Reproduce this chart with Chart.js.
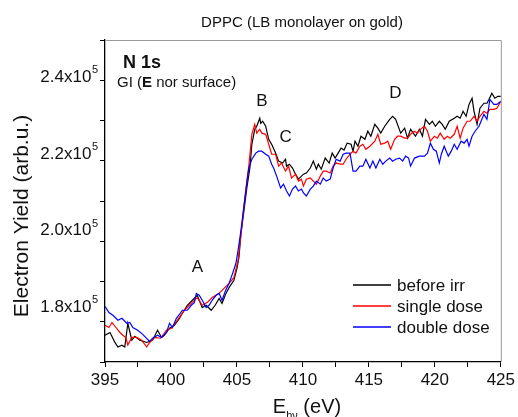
<!DOCTYPE html>
<html>
<head>
<meta charset="utf-8">
<script src="https://cdn.jsdelivr.net/npm/chart.js@4.4.1/dist/chart.umd.min.js"></script>
<style>
  html, body { margin: 0; padding: 0; background: #fff; }
  #wrap { width: 518px; height: 417px; position: relative; }
</style>
</head>
<body>
<div id="wrap"><canvas id="c" width="518" height="417"></canvas></div>
<script>
// ---- Data (yield in units of 10^5, energy in eV) ----
const yieldUnit = 1e5;

const energyBlack = [395.00,395.38,395.75,395.98,396.28,396.50,396.73,397.03,397.26,397.63,398.16,398.61,398.98,399.29,399.51,399.89,400.26,400.64,400.86,401.24,401.62,401.99,402.37,402.67,403.05,403.35,403.65,403.87,404.17,404.40,404.77,405.00,405.15,405.30,405.53,405.75,405.98,406.13,406.35,406.50,406.73,406.80,406.95,407.18,407.26,407.41,407.63,407.93,408.16,408.46,408.68,408.76,408.98,409.21,409.44,409.66,410.04,410.26,410.56,410.79,411.02,411.17,411.39,411.69,411.99,412.22,412.44,412.67,412.89,413.12,413.35,413.65,413.80,413.95,414.17,414.40,414.70,414.92,415.15,415.45,415.68,415.90,416.20,416.58,416.80,417.03,417.41,417.71,417.93,418.16,418.53,418.83,419.06,419.29,419.59,419.81,420.04,420.34,420.56,420.79,421.09,421.47,421.69,421.92,422.14,422.37,422.59,422.82,422.97,423.20,423.42,423.72,423.95,424.10,424.32,424.55,424.77,425.00];
const yieldBlack = [1.725,1.732,1.706,1.694,1.699,1.694,1.756,1.712,1.722,1.712,1.706,1.712,1.738,1.719,1.725,1.743,1.751,1.769,1.782,1.803,1.816,1.829,1.797,1.803,1.790,1.803,1.821,1.808,1.834,1.849,1.868,1.899,1.927,1.990,2.049,2.109,2.161,2.223,2.262,2.270,2.291,2.278,2.283,2.270,2.257,2.236,2.223,2.200,2.179,2.174,2.184,2.166,2.171,2.161,2.145,2.132,2.145,2.148,2.161,2.179,2.158,2.171,2.158,2.187,2.174,2.200,2.187,2.200,2.213,2.208,2.226,2.223,2.205,2.231,2.218,2.244,2.236,2.257,2.244,2.275,2.265,2.252,2.270,2.288,2.296,2.288,2.252,2.265,2.239,2.262,2.244,2.262,2.244,2.288,2.275,2.283,2.270,2.283,2.275,2.262,2.283,2.291,2.296,2.291,2.309,2.296,2.327,2.343,2.309,2.275,2.317,2.330,2.330,2.340,2.356,2.343,2.348,2.348];

const energyRed = [395.00,395.30,395.53,395.83,396.13,396.35,396.58,396.73,397.03,397.41,397.78,398.16,398.38,398.76,399.21,399.66,400.04,400.49,401.02,401.54,401.99,402.37,402.74,403.12,403.65,404.02,404.40,404.77,405.08,405.30,405.53,405.75,405.90,406.13,406.35,406.50,406.73,406.88,407.18,407.41,407.63,407.93,408.16,408.38,408.68,408.91,409.14,409.44,409.66,409.89,410.04,410.26,410.56,410.79,411.02,411.32,411.54,411.77,412.07,412.29,412.52,412.82,413.05,413.27,413.57,413.80,414.02,414.32,414.55,414.77,415.08,415.45,415.68,415.90,416.20,416.43,416.65,416.95,417.18,417.41,417.71,417.93,418.16,418.46,418.68,418.91,419.21,419.44,419.66,419.96,420.19,420.41,420.71,420.94,421.17,421.47,421.69,421.92,422.14,422.44,422.67,422.97,423.20,423.42,423.72,423.95,424.17,424.47,424.70,425.00];
const yieldRed = [1.751,1.745,1.758,1.745,1.732,1.725,1.719,1.699,1.719,1.719,1.712,1.694,1.706,1.719,1.717,1.738,1.743,1.764,1.790,1.808,1.823,1.803,1.810,1.823,1.834,1.847,1.860,1.875,1.919,1.984,2.062,2.127,2.166,2.249,2.275,2.252,2.262,2.252,2.249,2.223,2.197,2.197,2.166,2.174,2.153,2.166,2.135,2.145,2.127,2.132,2.114,2.132,2.135,2.127,2.119,2.140,2.153,2.153,2.148,2.166,2.174,2.171,2.171,2.184,2.197,2.205,2.200,2.218,2.223,2.210,2.218,2.231,2.249,2.223,2.226,2.231,2.210,2.236,2.244,2.244,2.239,2.239,2.249,2.257,2.252,2.262,2.270,2.257,2.231,2.244,2.239,2.252,2.236,2.244,2.239,2.249,2.270,2.239,2.265,2.283,2.283,2.296,2.283,2.296,2.309,2.304,2.314,2.314,2.317,2.335];

const energyBlue = [395.00,395.30,395.60,395.98,396.28,396.65,396.88,397.11,397.48,397.86,398.38,398.61,398.98,399.29,399.66,399.89,400.11,400.41,400.64,400.86,401.24,401.54,401.77,401.92,402.14,402.37,402.67,402.89,403.12,403.42,403.65,403.87,404.17,404.40,404.62,404.92,405.08,405.30,405.53,405.75,405.90,406.13,406.43,406.65,406.88,407.18,407.41,407.63,407.78,408.01,408.31,408.53,408.76,408.98,409.21,409.44,409.66,409.89,410.04,410.26,410.56,410.79,411.02,411.32,411.54,411.77,412.07,412.29,412.52,412.82,413.05,413.27,413.57,413.80,414.02,414.32,414.55,414.77,415.08,415.30,415.53,415.83,416.05,416.28,416.58,416.80,417.03,417.33,417.56,417.78,418.01,418.16,418.46,418.83,419.21,419.44,419.66,419.89,420.11,420.34,420.49,420.71,421.02,421.24,421.47,421.69,421.99,422.22,422.44,422.59,422.82,423.05,423.35,423.50,423.72,423.95,424.17,424.47,424.70,425.00];
const yieldBlue = [1.800,1.784,1.777,1.764,1.769,1.756,1.758,1.745,1.738,1.727,1.709,1.717,1.725,1.719,1.732,1.756,1.745,1.769,1.779,1.790,1.790,1.803,1.810,1.834,1.829,1.816,1.797,1.803,1.816,1.829,1.834,1.816,1.844,1.860,1.881,1.912,1.945,1.997,2.062,2.122,2.161,2.184,2.200,2.205,2.205,2.197,2.192,2.171,2.161,2.140,2.109,2.119,2.101,2.088,2.106,2.114,2.101,2.106,2.096,2.088,2.106,2.114,2.127,2.119,2.135,2.127,2.132,2.161,2.184,2.179,2.197,2.200,2.200,2.153,2.153,2.166,2.166,2.184,2.161,2.179,2.161,2.184,2.171,2.179,2.187,2.179,2.184,2.187,2.179,2.192,2.187,2.166,2.187,2.192,2.192,2.200,2.226,2.210,2.205,2.174,2.197,2.218,2.192,2.205,2.223,2.210,2.231,2.226,2.236,2.218,2.244,2.257,2.270,2.283,2.301,2.288,2.340,2.327,2.327,2.335];

const seriesNames = ['before irr', 'single dose', 'double dose'];
const seriesColors = ['#000000', '#ff0000', '#0000ff'];
const xTickValues = [395, 400, 405, 410, 415, 420, 425];
const yTickValues = [1.8, 2.0, 2.2, 2.4];
const peakLabels = ['A', 'B', 'C', 'D'];
const peakEnergies = [402.0, 406.9, 408.7, 417.0];
const peakYields = [1.903, 2.336, 2.240, 2.355];

function pairs(ex, ey) {
  const n = Math.min(ex.length, ey.length);
  const out = [];
  for (let i = 0; i < n; i++) out.push({ x: ex[i], y: ey[i] * yieldUnit });
  return out;
}

const FONT = '"Liberation Sans", Arial, Helvetica, sans-serif';

const overlay = {
  id: 'overlay',
  afterDraw(chart) {
    const ctx = chart.ctx;
    const a = chart.chartArea;
    const xs = chart.scales.x, ys = chart.scales.y;
    ctx.save();
    // gray frame top/right
    ctx.strokeStyle = '#9a9a9a';
    ctx.lineWidth = 1;
    ctx.beginPath();
    ctx.moveTo(a.left, a.top + 0.5);
    ctx.lineTo(a.right + 0.5, a.top + 0.5);
    ctx.lineTo(a.right + 0.5, a.bottom);
    ctx.stroke();

    ctx.fillStyle = '#111';
    // title
    ctx.font = '15px ' + FONT;
    ctx.textAlign = 'center';
    ctx.textBaseline = 'middle';
    ctx.fillText('DPPC (LB monolayer on gold)', 302, 23);

    // y tick labels with superscript
    ctx.textBaseline = 'middle';
    yTickValues.forEach(v => {
      const yp = ys.getPixelForValue(v * yieldUnit);
      const right = 98;
      ctx.font = '11px ' + FONT;
      ctx.textAlign = 'right';
      const sw = ctx.measureText('5').width;
      ctx.fillText('5', right, yp - 6);
      ctx.font = '17px ' + FONT;
      ctx.fillText(v.toFixed(1) + 'x10', right - sw - 0.5, yp + 1);
    });

    // y axis title
    ctx.save();
    ctx.translate(22, 216);
    ctx.rotate(-Math.PI / 2);
    ctx.font = '21px ' + FONT;
    ctx.textAlign = 'center';
    ctx.textBaseline = 'middle';
    ctx.fillText('Electron Yield (arb.u.)', 0, 0);
    ctx.restore();

    // x axis title: E_hν (eV)
    ctx.textAlign = 'left';
    ctx.textBaseline = 'alphabetic';
    ctx.font = '20px ' + FONT;
    const eW = ctx.measureText('E').width;
    ctx.font = '11px ' + FONT;
    const sW = ctx.measureText('h\u03bd').width;
    ctx.font = '20px ' + FONT;
    const rW = ctx.measureText(' (eV)').width;
    let x0 = 307 - (eW + sW + rW) / 2;
    const base = 413;
    ctx.fillText('E', x0, base);
    ctx.font = '11px ' + FONT;
    ctx.fillText('h\u03bd', x0 + eW, base + 6);
    ctx.font = '20px ' + FONT;
    ctx.fillText(' (eV)', x0 + eW + sW, base);

    // N 1s and GI
    ctx.font = 'bold 18px ' + FONT;
    ctx.textBaseline = 'middle';
    ctx.fillText('N 1s', 123, 63);
    ctx.font = '15px ' + FONT;
    let gx = 117;
    const gy = 83;
    const parts = [['GI (', false], ['E', true], [' nor surface)', false]];
    parts.forEach(([t, b]) => {
      ctx.font = (b ? 'bold ' : '') + '15px ' + FONT;
      ctx.fillText(t, gx, gy);
      gx += ctx.measureText(t).width;
    });

    // peak labels
    ctx.font = '17px ' + FONT;
    ctx.textAlign = 'center';
    peakLabels.forEach((t, i) => {
      ctx.fillText(t, xs.getPixelForValue(peakEnergies[i]), ys.getPixelForValue(peakYields[i] * yieldUnit));
    });

    // legend
    ctx.textAlign = 'left';
    ctx.font = '17px ' + FONT;
    seriesNames.forEach((n, i) => {
      const y = 285 + i * 21;
      ctx.strokeStyle = seriesColors[i];
      ctx.lineWidth = 1.3;
      ctx.beginPath();
      ctx.moveTo(353, y);
      ctx.lineTo(391, y);
      ctx.stroke();
      ctx.fillStyle = '#111';
      ctx.fillText(n, 397, y + 1);
    });
    ctx.restore();
  }
};

const datasets = [
  { label: seriesNames[0], data: pairs(energyBlack, yieldBlack), borderColor: seriesColors[0], order: 2 },
  { label: seriesNames[1], data: pairs(energyRed, yieldRed), borderColor: seriesColors[1], order: 1 },
  { label: seriesNames[2], data: pairs(energyBlue, yieldBlue), borderColor: seriesColors[2], order: 0 }
].map(d => Object.assign(d, { borderWidth: 1.2, pointRadius: 0, tension: 0, fill: false }));

new Chart(document.getElementById('c'), {
  type: 'line',
  data: { datasets },
  options: {
    responsive: false,
    animation: false,
    layout: { padding: { top: 40, right: 14, left: 0, bottom: 0 } },
    plugins: { legend: { display: false }, tooltip: { enabled: false }, title: { display: false } },
    scales: {
      x: {
        type: 'linear',
        min: 395, max: 425,
        afterFit: s => { s.height = 55; },
        border: { display: true, color: '#000', width: 1.3 },
        grid: { drawOnChartArea: false, drawTicks: true, tickLength: 5, tickColor: '#000', tickWidth: 1 },
        ticks: {
          stepSize: 2.5, autoSkip: false, maxRotation: 0, padding: 3,
          color: '#111', font: { size: 17, family: FONT },
          callback: v => (xTickValues.includes(v) ? String(v) : '')
        }
      },
      y: {
        type: 'linear',
        min: 1.655 * yieldUnit, max: 2.495 * yieldUnit,
        afterFit: s => { s.width = 105; },
        border: { display: true, color: '#000', width: 1.3 },
        grid: { drawOnChartArea: false, drawTicks: true, tickLength: 5, tickColor: '#000', tickWidth: 1 },
        ticks: { stepSize: 0.1 * yieldUnit, includeBounds: false, autoSkip: false, callback: () => '' }
      }
    }
  },
  plugins: [overlay]
});
</script>
</body>
</html>
